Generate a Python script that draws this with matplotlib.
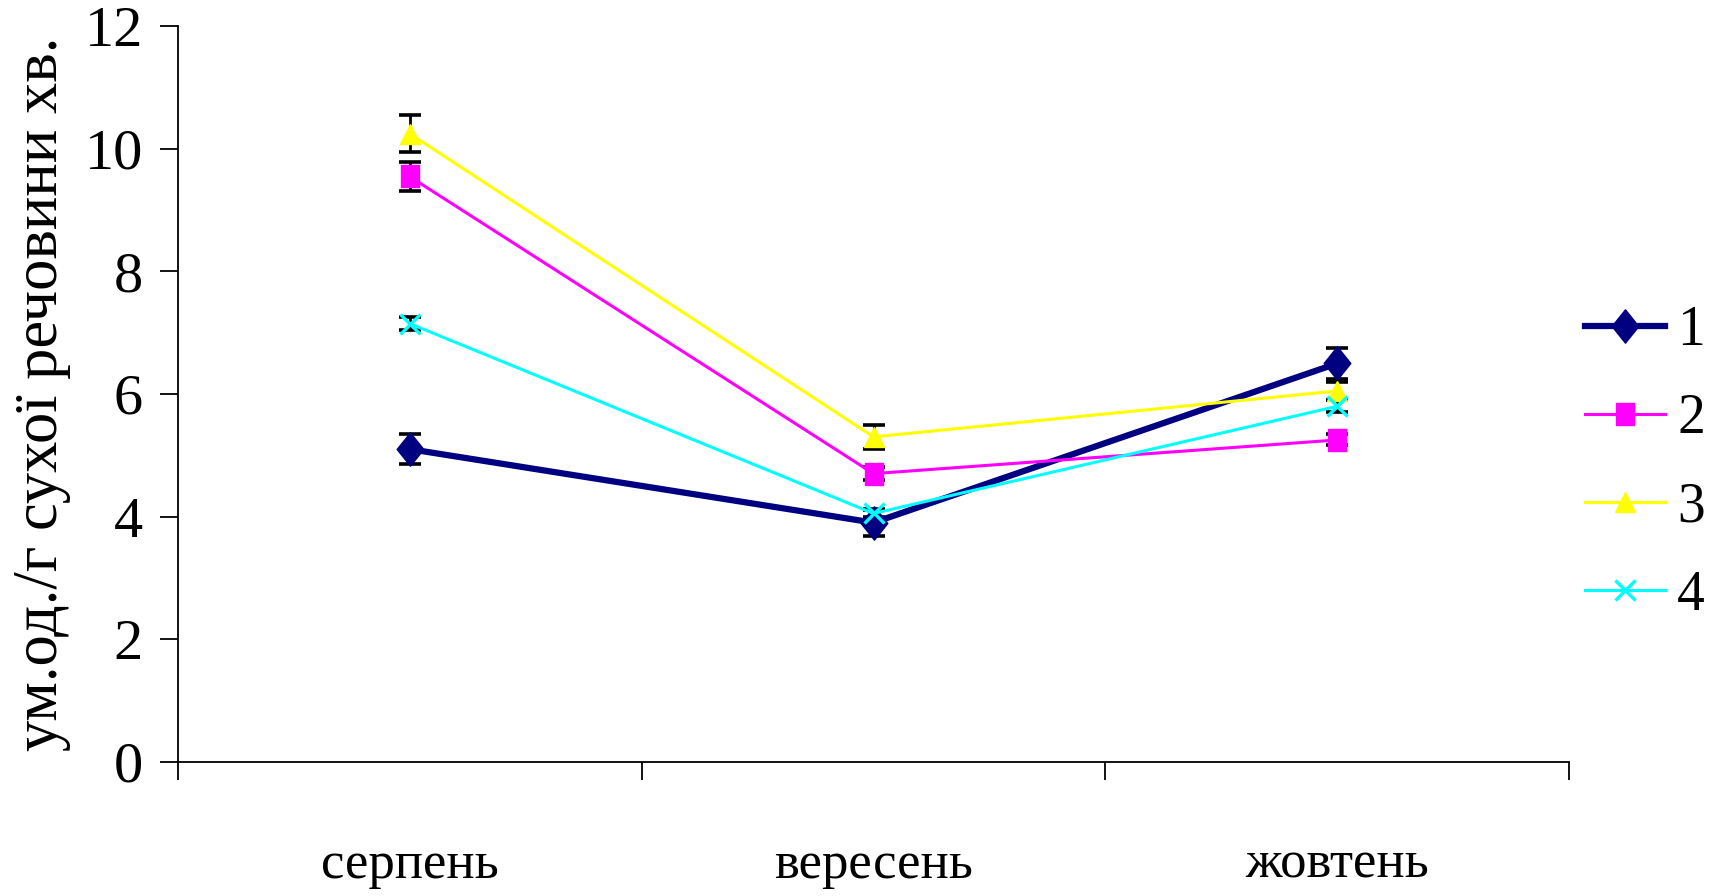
import matplotlib
matplotlib.use("Agg")
import matplotlib.pyplot as plt
from matplotlib.path import Path

plt.rcParams['font.family'] = ['Liberation Serif', 'DejaVu Serif']

months = ["серпень", "вересень", "жовтень"]
series_labels = ["1", "2", "3", "4"]

s1 = [5.1, 3.9, 6.5]
s2 = [9.55, 4.7, 5.25]
s3 = [10.25, 5.3, 6.05]
s4 = [7.15, 4.05, 5.8]

e1 = [0.25, 0.22, 0.25]
e2 = [0.24, 0.10, 0.09]
e3 = [0.30, 0.20, 0.15]
e4 = [0.11, 0.06, 0.10]

y_ticks = [0, 2, 4, 6, 8, 10, 12]
y_label = "ум.од./г сухої речовини хв."

# slightly tall diamond and square, as in the original spreadsheet style
tall_diamond = Path([(0, 1), (0.8, 0), (0, -1), (-0.8, 0), (0, 1)],
                    [Path.MOVETO, Path.LINETO, Path.LINETO, Path.LINETO, Path.CLOSEPOLY])
tall_square = Path([(-0.82, -1), (0.82, -1), (0.82, 1), (-0.82, 1), (-0.82, -1)],
                   [Path.MOVETO, Path.LINETO, Path.LINETO, Path.LINETO, Path.CLOSEPOLY])

values = [s1, s2, s3, s4]
errors = [e1, e2, e3, e4]
colors = ["#000080", "#FF00FF", "#FFFF00", "#00FFFF"]
markers = [tall_diamond, tall_square, "^", "x"]
msizes = [24, 16, 15, 14]
lwidths = [4.5, 2.2, 2.2, 2.2]
mews = [1, 1, 1, 2.4]

fig = plt.figure(figsize=(17.19, 8.96), dpi=100)
ax = fig.add_axes([0.1033, 0.150, 0.8097, 0.8206])

x = list(range(len(months)))
handles = []
for vals, errs, c, m, ms, lw, mew, lab in zip(values, errors, colors, markers,
                                               msizes, lwidths, mews, series_labels):
    ax.errorbar(x, vals, yerr=errs, fmt='none', ecolor='black',
                elinewidth=2.0, capsize=8, capthick=2.6, zorder=2)
    h, = ax.plot(x, vals, color=c, marker=m, markersize=ms, linewidth=lw,
                 markeredgecolor=c, markerfacecolor=c, markeredgewidth=mew,
                 label=lab, zorder=3)
    handles.append(h)

ax.set_xlim(-0.5, 2.5)
ax.set_ylim(0, 12)
ax.set_yticks(y_ticks)
ax.set_xticks(x)
ax.set_xticklabels(months)
ax.set_xticks([-0.5, 0.5, 1.5, 2.5], minor=True)

ax.spines['top'].set_visible(False)
ax.spines['right'].set_visible(False)
for sp in ('left', 'bottom'):
    ax.spines[sp].set_linewidth(1.3)
    ax.spines[sp].set_color('black')

ax.tick_params(axis='y', direction='out', length=13, width=1.3,
               labelsize=42, pad=12)
ax.tick_params(axis='x', which='major', length=0, labelsize=38, pad=57)
ax.tick_params(axis='x', which='minor', direction='out', length=13, width=1.3)

ax.set_ylabel(y_label, fontsize=45, labelpad=10)

fig.legend(handles=handles, labels=series_labels, loc='center left',
           bbox_to_anchor=(0.922, 0.4827), frameon=False, fontsize=40,
           handlelength=1.44, handletextpad=0.22, labelspacing=0.65,
           borderaxespad=0, borderpad=0)

fig.savefig("out.png", dpi=100, facecolor='white')
